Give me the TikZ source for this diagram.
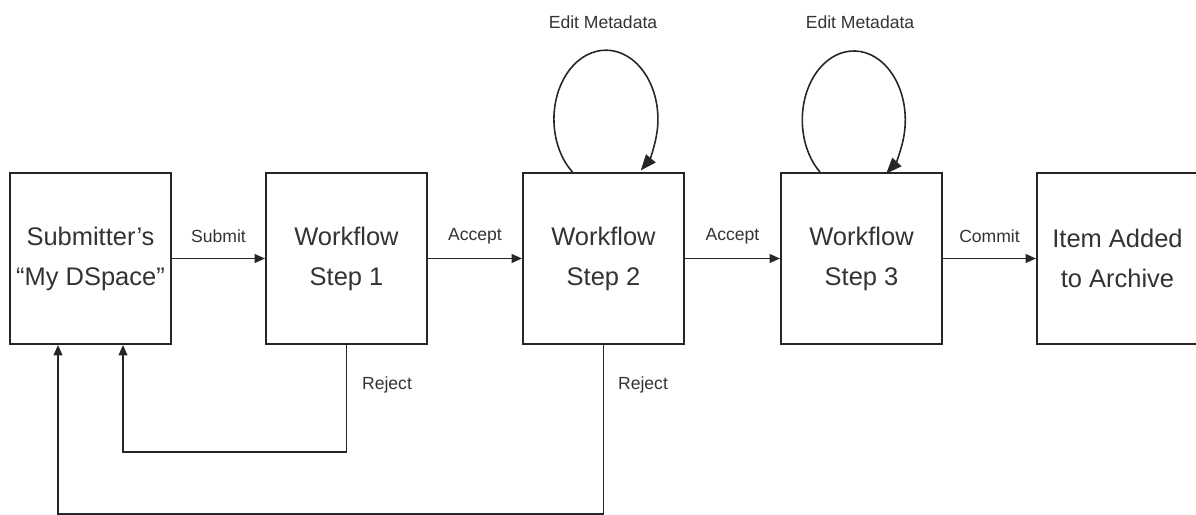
\documentclass[tikz,border=0pt]{standalone}
\usepackage{fontspec}
\setmainfont{Liberation Sans}
\usetikzlibrary{arrows.meta}

\begin{document}
\begin{tikzpicture}[x=0.02cm, y=0.02cm,
  ink/.style={line width=1.1pt, draw=black!85},
  stagebox/.style={ink, rectangle, minimum width=3.22cm, minimum height=3.42cm,
    inner sep=0pt, align=center, text=black!80,
    font=\fontsize{14.5}{22.7}\selectfont},
  flow/.style={ink, -{Triangle[length=6pt, width=5pt]}},
  loopflow/.style={line width=0.9pt, draw=black!85, -{Triangle[length=9pt, width=7pt]}},
  lbl/.style={text=black!80, inner sep=0pt, font=\fontsize{10}{12}\selectfont}]

  \useasboundingbox (0,0) rectangle (1196,514);
  \clip (0,0) rectangle (1196,514);

  % stages of the submission workflow
  \node[stagebox] (sub)  at (90.5,255.5)  {Submitter's\\``My DSpace''};
  \node[stagebox] (wf1)  at (346.5,255.5) {Workflow\\Step 1};
  \node[stagebox] (wf2)  at (603.5,255.5) {Workflow\\Step 2};
  \node[stagebox] (wf3)  at (861.5,255.5) {Workflow\\Step 3};
  \node[stagebox] (arch) at (1117.5,255.5) {Item Added\\to Archive};

  % forward path
  \draw[flow] (sub.east) -- node[lbl, midway, yshift=0.44cm] (lsub) {Submit} (wf1.west);
  \draw[flow] (wf1.east) -- node[lbl, midway, yshift=0.44cm] (lacc1) {Accept} (wf2.west);
  \draw[flow] (wf2.east) -- node[lbl, midway, yshift=0.44cm] (lacc2) {Accept} (wf3.west);
  \draw[flow] (wf3.east) -- node[lbl, midway, yshift=0.44cm] (lcom) {Commit} (arch.west);

  % rejections back to the submitter
  \coordinate (j1) at (123,62);
  \coordinate (j2) at (58,-0.3);
  \draw[flow] (wf1.south) |- (j1) -- (j1 |- sub.south);
  \draw[flow] (wf2.south) |- (j2) -- (j2 |- sub.south);
  \node[lbl] (lrej1) at (387,129) {Reject};
  \node[lbl] (lrej2) at (643,129) {Reject};

  % metadata editing loops
  \draw[loopflow] ([xshift=-0.62cm]wf2.north)
    arc[start angle=230, end angle=-48, x radius=52, y radius=69];
  \draw[loopflow] ([xshift=-0.83cm]wf3.north)
    arc[start angle=229, end angle=-51, x radius=51.5, y radius=69];
  \node[lbl] (led2) at (603,492) {Edit Metadata};
  \node[lbl] (led3) at (860,492) {Edit Metadata};
\end{tikzpicture}
\end{document}
